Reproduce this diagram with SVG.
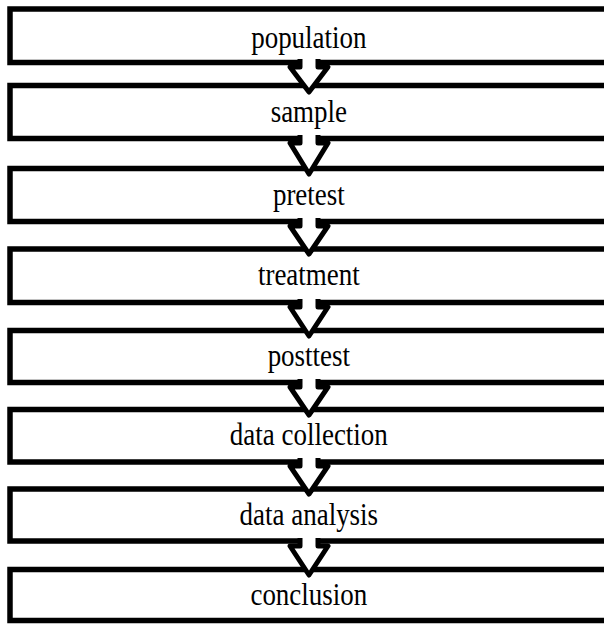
<svg xmlns="http://www.w3.org/2000/svg" width="604" height="624" viewBox="0 0 604 624">
  <style>
    .box { fill: #ffffff; stroke: #000000; stroke-width: 5.5; }
    .lbl { font-family: "Liberation Serif", "Times New Roman", serif; font-size: 31px; fill: #000000; text-anchor: middle; }
    .arrow { fill: #ffffff; stroke: #000000; stroke-width: 5; stroke-linejoin: round; }
  </style>
  <rect width="604" height="624" fill="#ffffff"/>

  <g id="node-population">
    <rect class="box" x="10" y="9" width="620" height="53.5"/>
    <text class="lbl" x="355" y="48" transform="scale(0.87 1)">population</text>
  </g>
  <g id="node-sample">
    <rect class="box" x="10" y="85.5" width="620" height="53"/>
    <text class="lbl" x="355" y="122" transform="scale(0.87 1)">sample</text>
  </g>
  <g id="node-pretest">
    <rect class="box" x="10" y="168.5" width="620" height="53"/>
    <text class="lbl" x="355" y="205" transform="scale(0.87 1)">pretest</text>
  </g>
  <g id="node-treatment">
    <rect class="box" x="10" y="249" width="620" height="53.5"/>
    <text class="lbl" x="355" y="285.5" transform="scale(0.87 1)">treatment</text>
  </g>
  <g id="node-posttest">
    <rect class="box" x="10" y="330.5" width="620" height="52"/>
    <text class="lbl" x="355" y="366.5" transform="scale(0.87 1)">posttest</text>
  </g>
  <g id="node-data-collection">
    <rect class="box" x="10" y="409.5" width="620" height="52.5"/>
    <text class="lbl" x="355" y="445.5" transform="scale(0.87 1)">data collection</text>
  </g>
  <g id="node-data-analysis">
    <rect class="box" x="10" y="489" width="620" height="52"/>
    <text class="lbl" x="355" y="525" transform="scale(0.87 1)">data analysis</text>
  </g>
  <g id="node-conclusion">
    <rect class="box" x="10" y="569.5" width="620" height="51"/>
    <text class="lbl" x="355" y="605" transform="scale(0.87 1)">conclusion</text>
  </g>

  <!-- block arrows between consecutive steps; open at the top so the shaft merges into the box above -->
  <g id="connectors">
    <path class="arrow" d="M300,59 V67 H290 L309,92 L328,67 H318 V59"/>
    <path class="arrow" d="M300,135 V143 H290 L309,174 L328,143 H318 V135"/>
    <path class="arrow" d="M300,218 V226 H290 L309,254 L328,226 H318 V218"/>
    <path class="arrow" d="M300,299 V307 H290 L309,336 L328,307 H318 V299"/>
    <path class="arrow" d="M300,379 V387 H290 L309,415 L328,387 H318 V379"/>
    <path class="arrow" d="M300,458 V466 H290 L309,494 L328,466 H318 V458"/>
    <path class="arrow" d="M300,538 V546 H290 L309,575 L328,546 H318 V538"/>
  </g>
</svg>
